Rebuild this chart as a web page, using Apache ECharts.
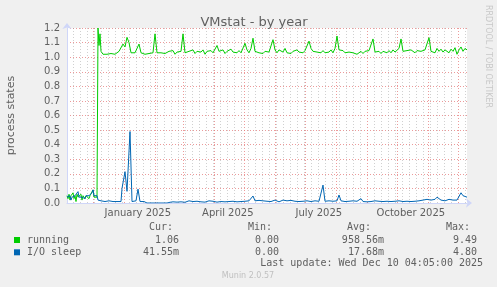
<!DOCTYPE html>
<html><head><meta charset="utf-8">
<script src="https://cdn.jsdelivr.net/npm/echarts@6/dist/echarts.min.js"></script>
<style>html,body{margin:0;padding:0;background:#f0f0f0}#c{width:497px;height:287px}</style>
</head><body><div id="c"></div><script>
// ---- data (x = days since graph start, Nov 5 2024 04:05) ----
const runDays = [0,1,2,3,4,5,6,7,8,9,10,11,12,13,14,15,16,17,18,19,20,21,22,23,24,25,26,27,28,29,30,
  31,32,33,34,36,38,40,42,44,46,48,50,52,54,56,58,60,62,64,66,68,70,72,74,76,78,80,82,84,86,88,90,92,94,96,98,
  100,102,104,106,108,110,112,114,116,118,120,122,124,126,128,130,132,134,136,138,140,142,144,146,148,150,152,154,156,158,
  160,162,164,166,168,170,172,174,176,178,180,182,184,186,188,190,192,194,196,198,200,202,204,206,208,210,212,214,216,218,
  220,222,224,226,228,230,232,234,236,238,240,242,244,246,248,250,252,254,256,258,260,262,264,266,268,270,272,274,276,278,
  280,282,284,286,288,290,292,294,296,298,300,302,304,306,308,310,312,314,316,318,320,322,324,326,328,330,332,334,336,338,
  340,342,344,346,348,350,352,354,356,358,360,362,364,366,368,370,372,374,376,378,380,382,384,386,388,390,392,394,396,398,400];
const runVals = [0.05,0.03,0.06,0.02,0.05,0.04,0.07,0.03,0.05,0.01,0.06,0.04,0.05,0.03,0.06,0.02,0.05,0.04,0.03,0.05,0.04,0.06,0.03,0.05,0.04,0.05,0.09,0.04,0.05,0.03,0.04,
  1.2,1.08,1.16,1.04,1.02,1.01,1.02,1.03,1.025,1.03,1.02,1.03,1.04,1.05,1.09,1.07,1.136,1.10,1.03,1.04,1.03,1.035,1.09,1.03,1.04,1.02,1.03,1.025,1.035,1.03,1.16,1.03,1.02,1.03,1.04,1.025,
  1.03,1.04,1.03,1.045,1.02,1.035,1.03,1.04,1.16,1.03,1.02,1.04,1.03,1.05,1.025,1.04,1.03,1.035,1.05,1.02,1.04,1.03,1.045,1.03,1.04,1.08,1.04,1.03,1.05,1.025,
  1.04,1.03,1.055,1.035,1.04,1.03,1.045,1.03,1.025,1.095,1.05,1.03,1.06,1.13,1.04,1.035,1.03,1.04,1.025,1.04,1.03,1.035,1.04,1.12,1.05,1.03,1.05,1.04,1.035,1.06,
  1.03,1.04,1.025,1.04,1.03,1.05,1.035,1.04,1.03,1.045,1.035,1.11,1.06,1.04,1.03,1.035,1.04,1.03,1.045,1.03,1.04,1.035,1.05,1.03,1.06,1.145,1.05,1.04,1.045,1.03,
  1.04,1.035,1.045,1.03,1.04,1.02,1.03,1.04,1.025,1.04,1.03,1.045,1.04,1.125,1.035,1.03,1.04,1.025,1.04,1.035,1.03,1.045,1.03,1.05,1.035,1.04,1.06,1.125,1.04,1.03,
  1.045,1.035,1.05,1.04,1.03,1.045,1.035,1.04,1.03,1.05,1.06,1.134,1.04,1.05,1.03,1.06,1.04,1.055,1.035,1.05,1.06,1.03,1.055,1.04,1.065,1.02,1.05,1.07,1.04,1.06,1.05];

const ioDays = [0,1,2,3,4,5,6,7,8,9,10,11,12,13,14,15,16,17,18,19,20,21,22,23,24,25,26,27,28,29,30,
  31,32,34,36,38,40,42,44,46,48,50,52,54,55,56,58,60,63,65,67,69,71,73,75,77,79,80,82,84,86,88,90,92,94,96,98,100,102,103,
  104,106,108,110,112,114,116,118,120,122,124,126,128,130,132,134,136,138,140,142,144,146,148,150,152,154,156,158,
  160,162,164,166,168,170,172,174,176,178,180,182,184,186,188,190,192,194,196,198,200,202,204,206,208,210,212,214,216,218,
  220,222,224,226,228,230,232,234,236,238,240,242,244,246,248,250,252,254,256,258,260,262,264,266,268,270,272,274,276,278,
  280,282,284,286,288,290,292,294,296,298,300,302,304,306,308,310,312,314,316,318,320,322,324,326,328,330,332,334,336,338,
  340,342,344,346,348,350,352,354,356,358,360,362,364,366,368,370,372,374,376,378,380,382,384,386,388,390,392,394,396,398,400];
const ioVals = [0.04,0.05,0.03,0.05,0.02,0.04,0.05,0.03,0.05,0.04,0.05,0.078,0.04,0.03,0.05,0.04,0.04,0.05,0.03,0.05,0.04,0.04,0.05,0.04,0.05,0.07,0.09,0.05,0.04,0.06,0.05,
  0.02,0.01,0.015,0.005,0.01,0.01,0.015,0.005,0.01,0.015,0.01,0.01,0.01,0.1,0.11,0.215,0.08,0.49,0.01,0.01,0.015,0.095,0.01,0.015,0.01,0.005,0,0,0,0,0,0,0,0,0,0,0,0,0.005,
  0.01,0.008,0.012,0.006,0.01,0.008,0.012,0.005,0.01,0.015,0.008,0.01,0.006,0.012,0.01,0.008,0.012,0.006,0.01,0.015,0.008,0.012,0.01,0.006,0.012,0.01,0.015,0.008,
  0.012,0.01,0.006,0.012,0.015,0.008,0.02,0.01,0.015,0.012,0.008,0.015,0.02,0.048,0.015,0.012,0.018,0.01,0.015,0.008,0.012,0.018,0.01,0.015,0.02,0.012,0.008,0.015,0.02,0.01,
  0.015,0.012,0.018,0.008,0.012,0.02,0.01,0.015,0.012,0.008,0.015,0.02,0.01,0.012,0.015,0.008,0.012,0.015,0.123,0.012,0.008,0.015,0.01,0.012,0.008,0.015,0.055,0.015,0.02,0.01,
  0.015,0.012,0.008,0.015,0.01,0.012,0.015,0.03,0.01,0.012,0.008,0.015,0.01,0.012,0.015,0.008,0.012,0.018,0.01,0.015,0.012,0.02,0.01,0.015,0.012,0.008,0.015,0.02,0.01,0.015,
  0.012,0.02,0.01,0.018,0.012,0.02,0.015,0.01,0.02,0.015,0.025,0.012,0.02,0.015,0.025,0.04,0.03,0.02,0.025,0.015,0.02,0.025,0.015,0.02,0.012,0.02,0.03,0.07,0.05,0.06,0.04];

const monthLabels = ['January 2025','April 2025','July 2025','October 2025'];
const legendNames = ['running','I/O sleep'];
const legendColors = ['#00cc00','#0066b3'];
const legendHeads = ['Cur:','Min:','Avg:','Max:'];
const legendCur = ['1.06','41.55m'];
const legendMin = ['0.00','0.00'];
const legendAvg = ['958.56m','17.68m'];
const legendMax = ['9.49','4.80'];
const lastUpdate = 'Last update: Wed Dec 10 04:05:00 2025';

// ---- time helpers ----
const T0 = Date.UTC(2024,10,5,4,5);
const dayOf = (y,m,d) => (Date.UTC(y,m,d) - T0) / 86400000;
const monthTicks = [];
for (let i = 0; i < 13; i++) monthTicks.push(dayOf(2024, 11 + i, 1));
const weekTicks = [];
for (let d = dayOf(2024,10,11); d < 400; d += 7) {
  if (!monthTicks.some(m => Math.abs(m - d) < 0.5)) weekTicks.push(d);
}
const labelPos = [dayOf(2025,0,15), dayOf(2025,3,15), dayOf(2025,6,15), dayOf(2025,9,15)];

const pair = (xs, ys) => xs.map((x,i) => [x, ys[i]]);

const chart = echarts.init(document.getElementById('c'), null, {renderer:'canvas'});
const mono = '"DejaVu Sans Mono", monospace';
const FONT = '#606060';
const txt = (t, x, y, align, extra) => Object.assign({type:'text', style:{text:t, x:x, y:y, textAlign:align||'left', textVerticalAlign:'middle', font:'10px '+mono, fill:FONT}}, extra||{});
const g = [];
const colX = [173, 272, 371, 470];
legendHeads.forEach((h,i)=>g.push(txt(h, colX[i], 227, 'right')));
const valX = [179, 279, 384, 477];
legendNames.forEach((n,r)=>{
  const y = 240 + r*12.3;
  g.push({type:'rect', shape:{x:14, y:y-3, width:6, height:6}, style:{fill:legendColors[r]}});
  g.push(txt(n, 27, y, 'left'));
  g.push(txt(legendCur[r], valX[0], y, 'right'));
  g.push(txt(legendMin[r], valX[1], y, 'right'));
  g.push(txt(legendAvg[r], valX[2], y, 'right'));
  g.push(txt(legendMax[r], valX[3], y, 'right'));
});
g.push(txt(lastUpdate, 483, 263.7, 'right'));
g.push({type:'text', style:{text:'Munin 2.0.57', x:248, y:276, textAlign:'center', textVerticalAlign:'middle', font:'8px "DejaVu Sans"', fill:'#c0c0c0'}});
g.push({type:'text', rotation:-Math.PI/2, x:488, y:5, style:{text:'RRDTOOL / TOBI OETIKER', x:0, y:0, textAlign:'left', textVerticalAlign:'middle', font:'8px "DejaVu Sans"', fill:'#c8c8c8'}});

const gridRed = {color:'rgba(230,120,120,0.75)', type:[1,2], width:1};
const gridGrey = {color:'rgba(150,150,150,0.45)', type:[1,2], width:1};
const AX = '#cfd6f8';

chart.setOption({
  animation:false,
  backgroundColor:'#f0f0f0',
  title:{text:'VMstat - by year', left:249, top:11, textAlign:'center', textStyle:{fontFamily:'DejaVu Sans', fontSize:13, fontWeight:'normal', color:FONT}},
  grid:{left:67, right:30, top:28, bottom:84, containLabel:false, outerBoundsMode:'none', show:true, backgroundColor:'#ffffff', borderWidth:0},
  xAxis:[
    {type:'value', min:0, max:400, position:'bottom', offset:0,
      axisLine:{show:false},
      axisTick:{show:false, customValues:weekTicks},
      axisLabel:{show:false},
      splitLine:{show:true, lineStyle:gridGrey}
    },
    {type:'value', min:0, max:400, position:'bottom', offset:0,
      axisLine:{show:true, onZero:false, lineStyle:{color:AX, width:1}, symbol:['none','arrow'], symbolSize:[7,6], symbolOffset:[0,5]},
      axisTick:{show:false, customValues:monthTicks},
      splitLine:{show:true, lineStyle:gridRed},
      axisLabel:{customValues:labelPos, formatter:(v)=>{const i=labelPos.findIndex(p=>Math.abs(p-v)<0.5);return i>=0?monthLabels[i]:'';}, fontFamily:'DejaVu Sans', fontSize:10, color:FONT, margin:5}
    }
  ],
  yAxis:{type:'value', min:0, max:1.2, interval:0.1,
    name:'process states', nameLocation:'middle', nameGap:50, nameTextStyle:{fontFamily:'DejaVu Sans', fontSize:11, color:FONT},
    axisLine:{show:true, lineStyle:{color:AX, width:1}, symbol:['none','arrow'], symbolSize:[7,6], symbolOffset:[0,5]},
    axisTick:{show:false},
    splitLine:{show:true, lineStyle:gridRed},
    axisLabel:{formatter:(v)=>v.toFixed(1), fontFamily:'DejaVu Sans', fontSize:10, color:FONT, margin:7}
  },
  series:[
    {name:'running', type:'line', xAxisIndex:1, data:pair(runDays, runVals), showSymbol:false, lineStyle:{width:1, color:legendColors[0]}, itemStyle:{color:legendColors[0]}, z:3},
    {name:'I/O sleep', type:'line', xAxisIndex:1, data:pair(ioDays, ioVals), showSymbol:false, lineStyle:{width:1, color:legendColors[1]}, itemStyle:{color:legendColors[1]}, z:4}
  ],
  graphic:g
});
</script></body></html>
